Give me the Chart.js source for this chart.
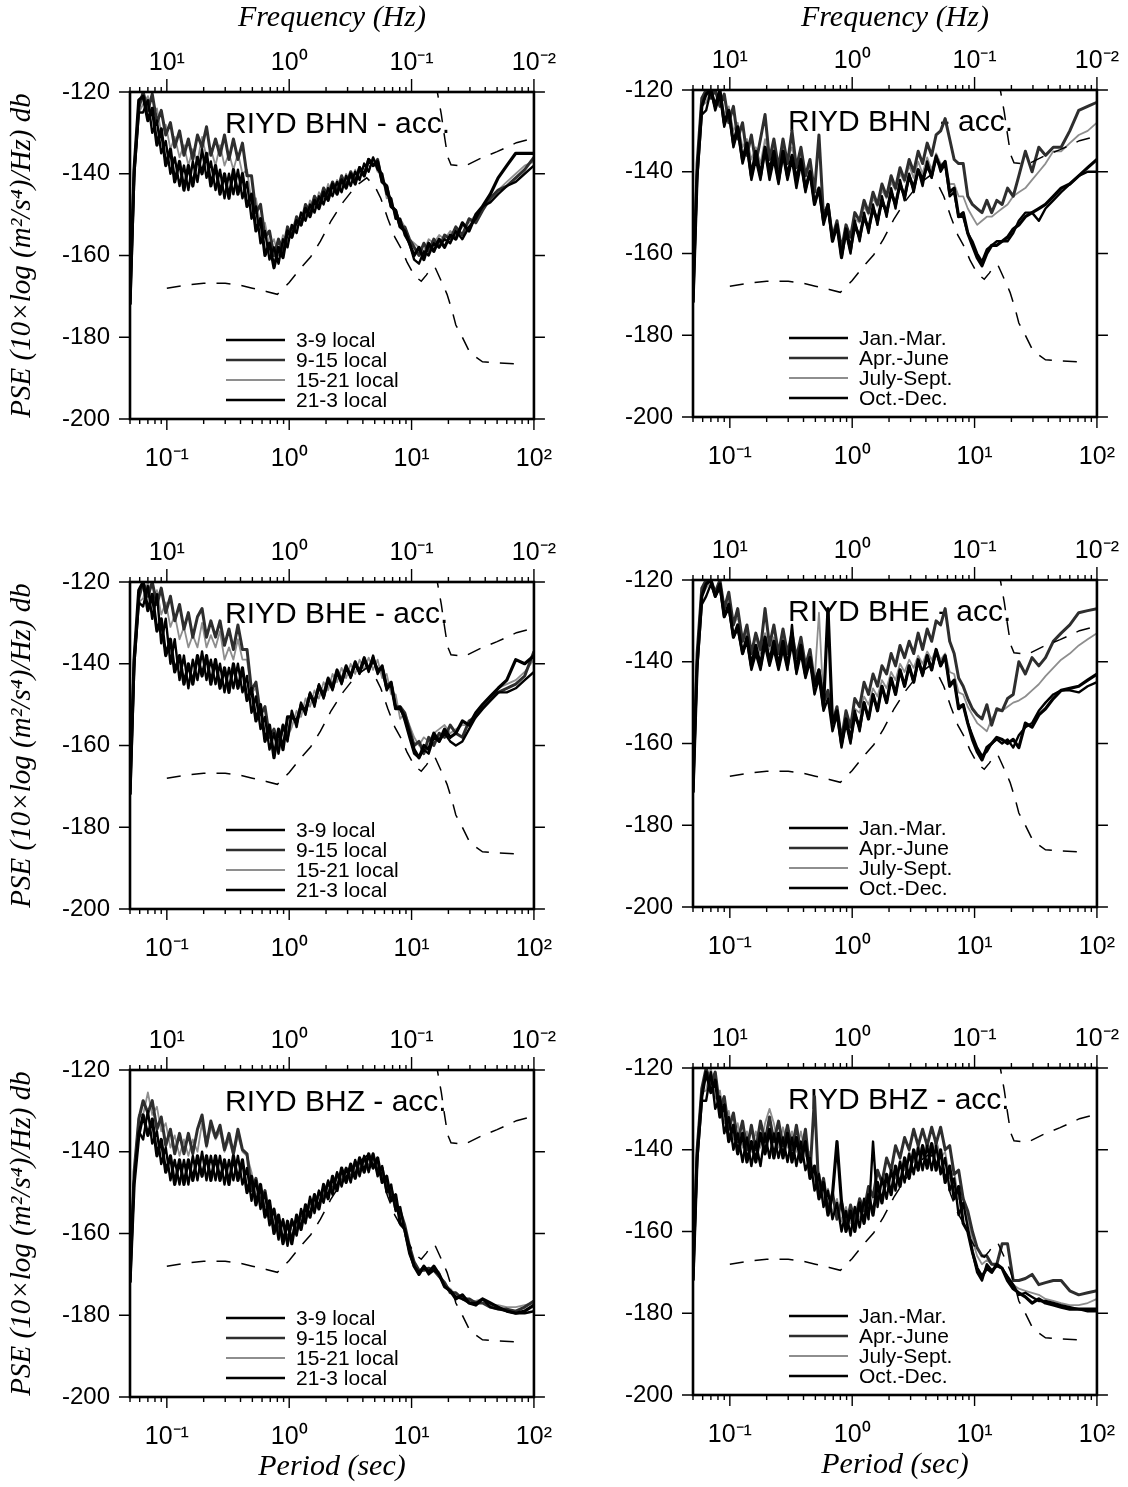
<!DOCTYPE html>
<html>
<head>
<meta charset="utf-8">
<script src="https://cdn.jsdelivr.net/npm/chart.js@4.4.1/dist/chart.umd.min.js"></script>
<style>
  body { margin: 0; background: #fff; width: 1128px; height: 1487px; position: relative; overflow: hidden; }
  canvas { position: absolute; }
</style>
</head>
<body>
<script>
// ---- shared period grid (sec), same for every series ----
const PERIOD = [0.050, 0.054, 0.059, 0.064, 0.070, 0.076, 0.083, 0.090, 0.098, 0.107,
  0.116, 0.127, 0.138, 0.150, 0.163, 0.178, 0.194, 0.211, 0.229, 0.250,
  0.272, 0.296, 0.322, 0.350, 0.381, 0.415, 0.452, 0.492, 0.535, 0.583,
  0.634, 0.690, 0.751, 0.818, 0.890, 0.969, 1.05, 1.15, 1.25, 1.36,
  1.48, 1.61, 1.75, 1.91, 2.08, 2.26, 2.46, 2.68, 2.92, 3.18,
  3.46, 3.76, 4.10, 4.46, 4.85, 5.28, 5.75, 6.26, 6.81, 7.41,
  8.07,
  8.8, 9.6, 10.5, 11.5, 12.6, 13.8, 15.2, 16.8, 18.6, 20.7, 23, 26, 29.5, 33.5, 38, 44, 51, 60, 71, 84, 100];

// ---- Peterson noise models (dashed) ----
const NLNM_PERIOD = [0.1, 0.15, 0.2, 0.3, 0.4, 0.5, 0.65, 0.8, 1.0, 1.25, 1.5, 1.8, 2.2, 2.75, 3.5, 4.3, 5.0, 5.6, 6.4, 7.3,
  8.3, 9.2, 10.6, 12.0, 13.2, 14.5, 15.5, 17.7, 19.5, 21.5, 23, 26, 30, 38, 50, 75];
const NLNM_DB = [-168, -167.2, -166.8, -166.8, -167.3, -168, -168.8, -169.5, -166.6, -163, -160.3, -156.5, -151.5, -147, -143, -141, -143, -146, -151, -155.5,
  -158.5, -161.7, -165, -166.3, -164.8, -163, -162.8, -166.6, -169.5, -173.6, -177, -180, -183.8, -186, -186.3, -186.5];
const NHNM_PERIOD = [15.8, 17.5, 18.5, 19.7, 21, 27, 38, 50, 72, 100];
const NHNM_DB = [-118, -125.5, -130.5, -135.8, -137.8, -138.2, -136, -134.6, -132.4, -131.3];

// ---- labels ----
const LOCAL_LABELS = ['3-9 local', '9-15 local', '15-21 local', '21-3 local'];
const SEASON_LABELS = ['Jan.-Mar.', 'Apr.-June', 'July-Sept.', 'Oct.-Dec.'];
const PERIOD_TICKS = [0.1, 1, 10, 100];
const PERIOD_TICK_LABELS = ['10⁻¹', '10⁰', '10¹', '10²'];
const FREQ_TICKS = [10, 1, 0.1, 0.01];
const FREQ_TICK_LABELS = ['10¹', '10⁰', '10⁻¹', '10⁻²'];
const DB_TICKS = [-120, -140, -160, -180, -200];

// ---- BHN, local time ----
const BHN_T03_09 = [-172, -139, -122, -121, -127, -124, -133, -129, -138, -134,
  -142, -137, -144, -138, -143, -136, -140, -135, -143, -138,
  -145, -140, -146, -139, -145, -140, -148, -145, -154, -151,
  -160, -157, -163, -158, -160.5, -154, -155.5, -151.5, -152.5, -148.5,
  -150.5, -146.5, -148.5, -144.5, -146.5, -142.5, -145, -141.5, -143.5, -140,
  -142.5, -138.5, -140.5, -136.5, -138, -137, -142, -143, -148, -149,
  -153,
  -154, -157, -160, -158, -161, -157, -159, -156, -158, -155, -156, -152, -154, -150, -148, -145, -141, -138, -135, -135, -135];
const BHN_T09_15 = [-172, -140, -124, -120, -124.5, -120.5, -127.5, -124.5, -130.5, -127.5,
  -133.5, -129.5, -135.5, -131.5, -136.5, -130.5, -133.5, -128.5, -135.5, -131.5,
  -135.5, -130.5, -136.5, -131.5, -136.5, -132.5, -140.5, -140.5, -149.5, -147.5,
  -155.5, -154, -160, -156, -159, -153, -155.5, -150.5, -152.5, -147.5,
  -149.5, -145.5, -147.5, -143.5, -145.5, -142, -144.5, -140.5, -143, -139.5,
  -142, -138.5, -140.5, -136.5, -138, -136.5, -142, -143, -148, -149,
  -153,
  -153, -156, -158, -160, -157, -159, -156, -158, -155, -156, -153, -155, -151, -152, -149, -146, -144, -143, -141, -139, -136];
const BHN_T15_21 = [-172, -141, -125, -123, -121, -126, -124, -130, -128, -134,
  -131, -136, -133, -138, -134, -137, -131, -136, -134, -138,
  -133, -138, -135, -139, -135, -140, -139, -147, -146, -153,
  -152, -158, -156, -160, -155, -157, -152.5, -153.5, -149.5, -150.5,
  -146.5, -148.5, -144.5, -146.5, -142.5, -145, -141.5, -143.5, -140, -142.5,
  -139, -141.5, -137.5, -139.5, -136, -139.5, -140, -146, -146, -151,
  -151,
  -153, -156, -157, -158, -159, -156, -157, -155, -156, -154, -155, -153, -152, -150, -148, -146, -144, -142, -140, -138, -137];
const BHN_T21_03 = [-172, -141, -125, -125, -122, -130, -127, -135, -132, -140,
  -136, -143, -138, -144, -137, -142, -134, -141, -137, -144,
  -139, -146, -140, -145, -139, -146, -142, -151, -148, -157,
  -154, -161, -158, -162, -156, -158, -152.5, -154.5, -149.5, -151.5,
  -147.5, -149.5, -145.5, -147.5, -143.5, -145.5, -142, -144.5, -140.5, -143,
  -139.5, -141.5, -137.5, -139.5, -136, -139, -140, -145, -146, -151,
  -151,
  -155, -157, -161, -162, -159, -160, -157, -158, -156, -157, -154, -156, -153, -151, -148, -147, -145, -143, -142, -140, -138];

// ---- BHN, seasons ----
const BHN_JAN_MAR = [-172, -141, -124, -121, -120, -124, -120, -128, -125, -133,
  -129, -137, -133, -141, -135, -141, -134, -140, -135, -142,
  -135, -141, -136, -142, -137, -144, -140, -148, -144, -152,
  -148, -157, -153, -161, -154, -159, -153, -156, -151, -154,
  -149, -152, -147, -150, -145, -148, -143, -146, -141, -144,
  -139.5, -142, -138.5, -141, -136.5, -139, -137.5, -145, -144, -151,
  -150,
  -155, -158, -161, -163, -160, -158, -158, -157, -156, -154, -153, -151, -150, -149, -148, -146, -144, -143, -141, -139, -137];
const BHN_APR_JUN = [-172, -138, -122, -120, -122, -120, -124, -121, -128, -124,
  -132, -128, -136, -131, -138, -132, -126, -137, -132, -139,
  -132, -138, -130, -139, -134, -141, -137, -145, -131, -151,
  -148, -156, -152, -159, -153, -156, -150, -152, -147, -150,
  -145, -148, -143, -146, -141, -144, -139, -142, -137, -140,
  -135, -138, -133, -136, -131, -130, -127, -132, -137, -138,
  -138,
  -146, -148, -149, -150, -147, -150, -147, -148, -144, -146, -141, -135, -140, -134, -136, -134, -134, -130, -125, -124, -123];
const BHN_JUL_SEP = [-172, -140, -124, -123, -120, -123, -120, -126, -124, -130,
  -128, -134, -132, -137, -134, -138, -132, -137, -134, -138,
  -134, -137, -134, -139, -136, -141, -139, -145, -144, -150,
  -149, -155, -153, -159, -154, -156, -151.5, -152.5, -148.5, -150.5,
  -146.5, -148.5, -144.5, -146.5, -142.5, -144.5, -140.5, -142.5, -138.5, -141.5,
  -137.5, -140.5, -136.5, -139.5, -135.5, -138, -138, -143, -143, -146,
  -146,
  -149, -151, -153, -152, -151, -151, -150, -149, -148, -146, -145, -144, -142, -140, -138, -135, -135, -133, -131, -130, -128];
const BHN_OCT_DEC = [-172, -142, -126, -125, -120, -125, -121, -129, -125, -134,
  -130, -138, -134, -142, -137, -142, -135, -142, -137, -143,
  -136, -142, -137, -144, -138, -145, -140, -148, -144, -153,
  -149, -157, -153, -161, -155, -160, -152, -157, -150, -155,
  -148, -153, -146, -151, -144, -149, -142, -147, -140.5, -145,
  -139.5, -143.5, -137.5, -141.5, -136, -140, -138, -146, -145, -151,
  -151,
  -155, -157, -160, -162, -159, -158, -157, -157, -157, -155, -152, -150, -150, -152, -149, -147, -145, -143, -141, -140, -140];

// ---- BHE, local time ----
const BHE_T03_09 = [-172, -139, -122, -120, -127, -123, -132, -129, -138, -134,
  -142, -138, -145, -140, -145, -138, -143, -138, -145, -139,
  -146, -141, -147, -140, -146, -141, -149, -146, -154, -150,
  -159, -155, -163, -156, -161, -153, -153, -154, -150.5, -151.5,
  -147.5, -149.5, -145.5, -148, -144, -146, -142, -144.5, -141, -143,
  -140, -142, -139, -141.5, -139, -141.5, -141, -146, -145, -151,
  -151,
  -153, -157, -161, -163, -160, -161, -157, -159, -156, -158, -157, -154, -155, -152, -150, -148, -146, -144, -139, -140, -138];
const BHE_T09_15 = [-172, -140, -124, -120, -123.5, -120, -125.5, -121.5, -127.5, -123.5,
  -129.5, -125.5, -131.5, -127.5, -133.5, -128.5, -126.5, -133.5, -129.5, -133.5,
  -129.5, -135.5, -131.5, -136.5, -130.5, -136.5, -136.5, -146.5, -144.5, -152.5,
  -150.5, -158, -156, -160, -155, -158, -152.5, -154.5, -150, -151.5,
  -147.5, -149.5, -145.5, -147.5, -143.5, -145.5, -141.5, -144, -140.5, -143,
  -139.5, -142, -138.5, -141.5, -138.5, -142, -140.5, -145.5, -144.5, -150.5,
  -150.5,
  -152, -156, -160, -159, -162, -158, -160, -157, -158, -155, -157, -158, -154, -153, -151, -149, -147, -146, -145, -143, -137];
const BHE_T15_21 = [-172, -141, -125, -124, -120, -125, -122, -128, -125, -131,
  -128, -134, -131, -136, -133, -136, -130, -136, -133, -136,
  -132, -139, -136, -139, -134, -139, -139, -147, -146, -152,
  -151, -158, -156, -160, -155, -158, -155.5, -151.5, -153, -148.5,
  -150.5, -146.5, -148.5, -144.5, -146.5, -142.5, -144.5, -141, -143.5, -140,
  -142.5, -139, -141.5, -138.5, -141.5, -139, -143.5, -142.5, -147.5, -147.5,
  -153.5,
  -152, -155, -158, -160, -158, -159, -157, -156, -155, -157, -156, -155, -155, -152, -150, -148, -146, -145, -144, -142, -139];
const BHE_T21_03 = [-172, -141, -125, -126, -121, -129, -123, -135, -129, -140,
  -134, -144, -138, -146, -139, -144, -137, -144, -139, -145,
  -140, -147, -141, -146, -140, -147, -143, -152, -148, -156,
  -153, -161, -157, -162, -155, -159, -151.5, -155.5, -149.5, -152.5,
  -147, -150.5, -145, -148.5, -143.5, -146.5, -141.5, -145, -140.5, -143.5,
  -139.5, -142.5, -138.5, -142, -138, -142.5, -140.5, -146.5, -144.5, -151,
  -150.5,
  -154, -158, -162, -163, -161, -162, -158, -159, -157, -159, -160, -159, -156, -153, -151, -149, -147, -147, -146, -144, -142];

// ---- BHE, seasons ----
const BHE_JAN_MAR = [-172, -141, -124, -121, -120, -124, -121, -129, -126, -134,
  -131, -138, -134, -141, -136, -141, -134, -140, -135, -141,
  -135, -141, -135, -142, -136, -143, -139, -146, -142, -151,
  -127, -155, -152, -160, -154, -159, -153, -156, -150, -154,
  -148, -152, -146, -150, -144, -148, -142, -146, -141, -145,
  -139.5, -143, -138.5, -142, -137, -141, -138.5, -146, -144.5, -151.5,
  -150.5,
  -155, -159, -162, -164, -161, -160, -158.5, -159, -160, -159, -161, -155, -156, -153, -151.5, -149, -147, -146.5, -146, -144.5, -143];
const BHE_APR_JUN = [-172, -138, -122, -120, -120, -123, -120, -127, -123, -131,
  -127, -135, -131, -138, -133, -137, -127, -136, -131, -138,
  -132, -138, -133, -139, -134, -141, -137, -145, -142, -150,
  -147, -155, -151, -159, -152, -156, -149, -151, -145, -148,
  -143, -146, -141, -143, -138, -141, -136, -139, -135, -138,
  -133, -137, -132, -135, -130, -131, -127, -135, -138, -144,
  -146,
  -149, -151.5, -153, -154, -150.5, -155.5, -151.5, -152, -149, -148, -140, -143, -139, -141, -139, -135, -133, -131, -128, -127.5, -127];
const BHE_JUL_SEP = [-172, -140, -124, -122, -120, -123, -121, -127, -125, -131,
  -129, -135, -133, -138, -134, -138, -133, -137, -134, -138,
  -134, -138, -135, -139, -136, -141, -139, -145, -128, -150,
  -148, -154, -152, -158, -154, -156, -151.5, -152.5, -148.5, -150.5,
  -146.5, -148.5, -144.5, -146.5, -142.5, -144.5, -140.5, -142.5, -139.5, -141.5,
  -138.5, -140.5, -137.5, -139.5, -137, -139.5, -138, -142.5, -143, -147.5,
  -148,
  -151, -153, -155, -156, -157, -154, -152, -152, -151, -150, -149.5, -148.5, -147, -145.5, -143.5, -141.5, -139.5, -138, -136, -134.5, -133];
const BHE_OCT_DEC = [-172, -142, -126, -124, -121, -124, -122, -129, -127, -134,
  -132, -138, -135, -142, -138, -142, -136, -141, -137, -142,
  -137, -142, -131, -143, -138, -144, -140, -148, -144, -152,
  -149, -157, -153, -161, -155, -160, -152, -157, -150, -154,
  -148, -152, -146, -150, -144, -148, -142, -146, -141, -145,
  -140, -143.5, -138.5, -142, -137.5, -141, -139, -145.5, -144.5, -151,
  -150.5,
  -155, -158, -161, -163, -162, -160, -159, -160, -159, -161, -158, -156, -155, -152, -150, -148, -147, -147, -147.5, -146, -145];

// ---- BHZ, local time ----
const BHZ_T03_09 = [-172, -148, -136, -131, -136, -132, -141, -137, -145, -141,
  -148, -142, -148, -142, -147, -141, -146, -141, -147, -141,
  -147, -142, -148, -141, -147, -142, -150, -146, -153, -148,
  -156, -152, -160, -155.5, -162.5, -157, -162.5, -155.5, -159, -153,
  -156, -150.5, -154, -148, -151.5, -146, -149.5, -144, -147.5, -143,
  -146.5, -141.5, -145, -140.5, -144, -141.5, -147.5, -146, -152, -150.5,
  -157.5,
  -159, -164, -168, -170, -168, -169.5, -168, -170, -173, -174, -176, -175, -177, -177.5, -176, -177, -178, -179, -179.5, -179, -177.5];
const BHZ_T09_15 = [-172, -145, -132, -127.5, -130.5, -127.5, -134.5, -131.5, -138.5, -134.5,
  -140.5, -135.5, -140.5, -135.5, -140.5, -134.5, -131, -138.5, -132.5, -136.5,
  -133.5, -139.5, -135.5, -140.5, -134.5, -139.5, -140.5, -149.5, -146.5, -152.5,
  -149.5, -156, -154, -159.5, -157, -162, -157, -159.5, -155, -156.5,
  -152, -154, -150, -151.5, -147.5, -149.5, -145.5, -147.5, -144, -146.5,
  -142.5, -145, -141.5, -144, -140.5, -145, -144, -149.5, -149, -154,
  -154.5,
  -158, -163, -167, -169, -169, -168.5, -169, -170.5, -172, -174.5, -174.5, -176, -176, -177, -177, -178, -178.5, -178.5, -179, -178, -176.5];
const BHZ_T15_21 = [-172, -146, -131, -131, -125.5, -131, -129, -135, -133, -139,
  -136, -141, -137, -141, -137, -140, -133, -139, -134, -137,
  -135, -140, -137, -141, -136, -140, -141, -145, -151, -148,
  -154, -152, -158, -155.5, -161, -158, -160.5, -156.5, -158, -153.5,
  -155, -151, -153, -148.5, -150.5, -146.5, -148.5, -144.5, -147, -143.5,
  -145.5, -142, -144.5, -141, -143.5, -142, -147, -146.5, -151.5, -151,
  -157,
  -158.5, -163.5, -167.5, -170, -168.5, -169, -168.5, -169.5, -172.5, -173.5, -175, -175.5, -176.5, -176.5, -176, -177.5, -177.5, -178, -178, -177.5, -177];
const BHZ_T21_03 = [-172, -147, -135, -137, -130, -138, -135, -143, -139, -147,
  -142, -148, -142, -148, -141, -147, -140, -147, -141, -147,
  -141, -148, -142, -147, -141, -148, -144, -152, -147, -154,
  -150, -158, -154, -161.5, -156.5, -163, -156.5, -160.5, -154, -157.5,
  -151, -155, -149.5, -152.5, -147, -150.5, -145, -148.5, -144, -147.5,
  -142, -146, -141, -145, -140.5, -146, -143.5, -150, -148, -154.5,
  -153.5,
  -159.5, -165, -168, -169.5, -168, -170, -169, -170, -173, -174, -175.5, -176, -177, -177, -176, -178, -178.5, -179, -179.5, -179.5, -179];

// ---- BHZ, seasons ----
const BHZ_JAN_MAR = [-172, -142, -127, -121, -126, -123, -132, -129, -138, -134,
  -141, -136, -143, -138, -143, -136, -141, -135, -142, -136,
  -142, -136, -143, -137, -143, -138, -147, -144, -152, -148,
  -156, -151, -138, -153, -160, -155, -160, -153, -158, -151,
  -156, -148, -153, -146, -151, -144, -149, -142, -147, -140,
  -145, -139, -144.5, -138.5, -145, -140, -148, -144, -152, -149,
  -158,
  -160, -165, -169, -171, -169, -170, -168, -169, -172, -174, -175, -176, -177.5, -176.5, -177.5, -178, -178.5, -179, -179, -179, -179];
const BHZ_APR_JUN = [-172, -140, -125, -120, -124, -121, -130, -127, -135, -131,
  -138, -133, -140, -134, -140, -133, -138, -132, -138, -133,
  -139, -134, -140, -134, -141, -135, -146, -127, -151, -147,
  -155, -150.5, -157, -152.5, -159, -153.5, -157.5, -152, -155, -149,
  -151.5, -145, -148, -142, -145, -139, -142, -137, -140, -135,
  -139, -135, -139, -134.5, -138.5, -134.5, -140, -139, -146, -145,
  -152,
  -155, -160, -164, -166, -166, -168, -168, -163, -163, -172, -172, -171.5, -170.5, -173, -172.5, -172, -172, -174.5, -175.5, -175, -174.5];
const BHZ_JUL_SEP = [-172, -141, -126, -125.5, -120, -127.5, -125.5, -133.5, -130.5, -137.5,
  -133.5, -139.5, -135.5, -140.5, -135.5, -139.5, -133.5, -130, -133.5, -139.5,
  -134.5, -139.5, -135.5, -140.5, -135.5, -141.5, -140.5, -148.5, -145.5, -152.5,
  -149.5, -155.5, -152, -157.5, -154, -158, -154, -157, -152, -155.5,
  -150.5, -152, -147.5, -149, -144.5, -147, -142.5, -145, -140.5, -143,
  -138.5, -142, -138, -141, -137.5, -142, -140.5, -147, -145.5, -152,
  -151.5,
  -157, -162, -166, -168, -167, -168, -168.5, -169, -171, -173, -174, -174.5, -175, -175.5, -176.5, -177, -177.5, -178, -178, -177.5, -176.5];
const BHZ_OCT_DEC = [-172, -143, -128, -128, -121, -130, -127, -136, -132, -140,
  -136, -143, -137, -144, -138, -144, -136, -142, -136, -142,
  -137, -143, -137, -144, -138, -145, -142, -150, -146, -154,
  -150, -157, -153, -160, -155, -161, -154, -159, -152, -157,
  -138, -154, -147, -152, -145, -150, -143, -148, -141, -146,
  -139.5, -145, -139, -145, -139, -146, -142, -150, -147, -156,
  -153,
  -159, -165, -170, -172, -168, -169.5, -168.5, -169, -171, -173, -175.5, -175, -176, -177, -177, -177.5, -178, -178.5, -179, -179.5, -179.5];

// ---- panel list ----
const panels = [
  { title: 'RIYD BHN - acc.', labels: LOCAL_LABELS, series: [BHN_T03_09, BHN_T09_15, BHN_T15_21, BHN_T21_03], row: 0, col: 0 },
  { title: 'RIYD BHN - acc.', labels: SEASON_LABELS, series: [BHN_JAN_MAR, BHN_APR_JUN, BHN_JUL_SEP, BHN_OCT_DEC], row: 0, col: 1 },
  { title: 'RIYD BHE - acc.', labels: LOCAL_LABELS, series: [BHE_T03_09, BHE_T09_15, BHE_T15_21, BHE_T21_03], row: 1, col: 0 },
  { title: 'RIYD BHE - acc.', labels: SEASON_LABELS, series: [BHE_JAN_MAR, BHE_APR_JUN, BHE_JUL_SEP, BHE_OCT_DEC], row: 1, col: 1 },
  { title: 'RIYD BHZ - acc.', labels: LOCAL_LABELS, series: [BHZ_T03_09, BHZ_T09_15, BHZ_T15_21, BHZ_T21_03], row: 2, col: 0 },
  { title: 'RIYD BHZ - acc.', labels: SEASON_LABELS, series: [BHZ_JAN_MAR, BHZ_APR_JUN, BHZ_JUL_SEP, BHZ_OCT_DEC], row: 2, col: 1 }
];

// line look of the four series (legend order)
const SERIES_STYLE = [
  { color: '#000000', width: 3.2 },
  { color: '#2e2e2e', width: 3.0 },
  { color: '#8e8e8e', width: 1.8 },
  { color: '#000000', width: 2.4 }
];
const DRAW_ORDER = [0, 3, 1, 2];   // gray one on top

// layout
const COLS = [{ left: 130, padL: 130, dy: 0 }, { left: 693, padL: 110, dy: -2 }];
const ROWS = [{ top: 92, padT: 92, padB: 60 }, { top: 582, padT: 62, padB: 60 }, { top: 1070, padT: 62, padB: 90 }];
const PLOT_W = 405, PLOT_H = 327, PAD_R = 34;

const SANS = "'Liberation Sans', Arial, Helvetica, sans-serif";
const SERIF = "'Liberation Serif', 'Times New Roman', serif";

// frame, tick marks, panel title and legend
const framePlugin = {
  id: 'frame',
  beforeDatasetsDraw(chart, args, opts) {
    const { ctx, chartArea: a } = chart;
    ctx.save();
    ctx.font = '30px ' + SANS;
    ctx.fillStyle = '#000';
    ctx.textAlign = 'left';
    ctx.textBaseline = 'middle';
    ctx.fillText(opts.title, a.left + 95, a.top + 33);
    ctx.restore();
  },
  afterDraw(chart, args, opts) {
    const { ctx, chartArea: a, scales } = chart;
    const xs = scales.x, ys = scales.y;
    ctx.save();
    ctx.strokeStyle = '#000';
    ctx.lineWidth = 1.4;
    ctx.beginPath();
    for (let d = -2; d <= 2; d++) {
      for (let m = 1; m <= 9; m++) {
        const v = m * Math.pow(10, d);
        if (v < 0.0499 || v > 100.01) continue;
        const px = xs.getPixelForValue(v);
        const len = m === 1 ? 11 : 5;
        ctx.moveTo(px, a.bottom); ctx.lineTo(px, a.bottom + len);
        ctx.moveTo(px, a.top); ctx.lineTo(px, a.top - len - (m === 1 ? 2 : 0));
      }
    }
    DB_TICKS.forEach(v => {
      const py = ys.getPixelForValue(v);
      ctx.moveTo(a.left - 11, py); ctx.lineTo(a.left, py);
      ctx.moveTo(a.right, py); ctx.lineTo(a.right + 11, py);
    });
    ctx.stroke();
    ctx.lineWidth = 2.6;
    ctx.strokeRect(a.left, a.top, a.right - a.left, a.bottom - a.top);

    // legend
    const items = chart.data.datasets
      .filter(d => d.legendIndex !== undefined)
      .sort((p, q) => p.legendIndex - q.legendIndex);
    ctx.font = '21px ' + SANS;
    ctx.fillStyle = '#000';
    ctx.textAlign = 'left';
    ctx.textBaseline = 'middle';
    items.forEach((d, i) => {
      const yy = a.top + 248 + i * 20;
      ctx.strokeStyle = d.borderColor;
      ctx.lineWidth = Math.min(d.borderWidth, 2.6);
      ctx.beginPath();
      ctx.moveTo(a.left + 96, yy);
      ctx.lineTo(a.left + 155, yy);
      ctx.stroke();
      ctx.fillText(d.label, a.left + 166, yy + 1);
    });
    ctx.restore();
  }
};

function toPoints(xs, ys) {
  return xs.map((x, i) => ({ x: x, y: ys[i] }));
}

function makePanel(p) {
  const col = COLS[p.col], row = ROWS[p.row];
  const plotTop = row.top + col.dy;
  const padT = row.padT + (p.row === 0 ? col.dy : 0);
  const padL = col.padL, padB = row.padB;
  const w = padL + PLOT_W + PAD_R, h = padT + PLOT_H + padB;

  const canvas = document.createElement('canvas');
  canvas.width = w; canvas.height = h;
  canvas.style.width = w + 'px'; canvas.style.height = h + 'px';
  canvas.style.left = (col.left - padL) + 'px';
  canvas.style.top = (plotTop - padT) + 'px';
  document.body.appendChild(canvas);

  const datasets = [
    { label: 'NLNM', data: toPoints(NLNM_PERIOD, NLNM_DB), borderColor: '#000', borderWidth: 1.5, borderDash: [14, 11], pointRadius: 0, tension: 0 },
    { label: 'NHNM', data: toPoints(NHNM_PERIOD, NHNM_DB), borderColor: '#000', borderWidth: 1.5, borderDash: [14, 11], pointRadius: 0, tension: 0 }
  ];
  DRAW_ORDER.forEach(k => {
    datasets.push({
      label: p.labels[k],
      legendIndex: k,
      data: toPoints(PERIOD, p.series[k]),
      borderColor: SERIES_STYLE[k].color,
      borderWidth: SERIES_STYLE[k].width,
      borderJoinStyle: 'round',
      pointRadius: 0,
      tension: 0
    });
  });

  new Chart(canvas, {
    type: 'line',
    data: { datasets: datasets },
    plugins: [framePlugin],
    options: {
      responsive: false,
      animation: false,
      devicePixelRatio: 1,
      layout: { padding: { left: 0, top: 0, right: PAD_R, bottom: 0 } },
      plugins: {
        legend: { display: false },
        tooltip: { enabled: false },
        frame: { title: p.title }
      },
      scales: {
        x: {
          type: 'logarithmic',
          position: 'bottom',
          min: 0.05, max: 100,
          grid: { display: false },
          border: { display: false },
          afterBuildTicks: s => { s.ticks = PERIOD_TICKS.map(v => ({ value: v })); },
          afterFit: s => { s.height = padB; },
          ticks: {
            autoSkip: false, maxRotation: 0, minRotation: 0, padding: 17,
            color: '#000', font: { family: SANS, size: 25 },
            callback: (v, i) => PERIOD_TICK_LABELS[i]
          },
          title: {
            display: p.row === 2, text: 'Period (sec)', color: '#000',
            font: { family: SERIF, style: 'italic', size: 30 }, padding: { top: 0, bottom: 2 }
          }
        },
        x2: {
          type: 'logarithmic',
          position: 'top',
          min: 0.01, max: 20,
          reverse: true,
          grid: { display: false },
          border: { display: false },
          afterBuildTicks: s => { s.ticks = FREQ_TICKS.map(v => ({ value: v })); },
          afterFit: s => { s.height = padT; },
          ticks: {
            autoSkip: false, maxRotation: 0, minRotation: 0, padding: 6,
            color: '#000', font: { family: SANS, size: 25 },
            callback: (v, i) => FREQ_TICK_LABELS[i]
          },
          title: {
            display: p.row === 0, text: 'Frequency (Hz)', color: '#000',
            font: { family: SERIF, style: 'italic', size: 30 }, padding: { top: 0, bottom: 0 }
          }
        },
        y: {
          type: 'linear',
          position: 'left',
          min: -200, max: -120,
          grid: { display: false },
          border: { display: false },
          afterFit: s => { s.width = padL; },
          ticks: {
            stepSize: 20, padding: 12, color: '#000',
            font: { family: SANS, size: 24 },
            callback: v => String(v)
          },
          title: {
            display: p.col === 0, text: 'PSE (10×log (m²/s⁴)/Hz) db', color: '#000',
            font: { family: SERIF, style: 'italic', size: 29 }, padding: { top: 5, bottom: 0 }
          }
        }
      }
    }
  });
}

panels.forEach(makePanel);
</script>
</body>
</html>
